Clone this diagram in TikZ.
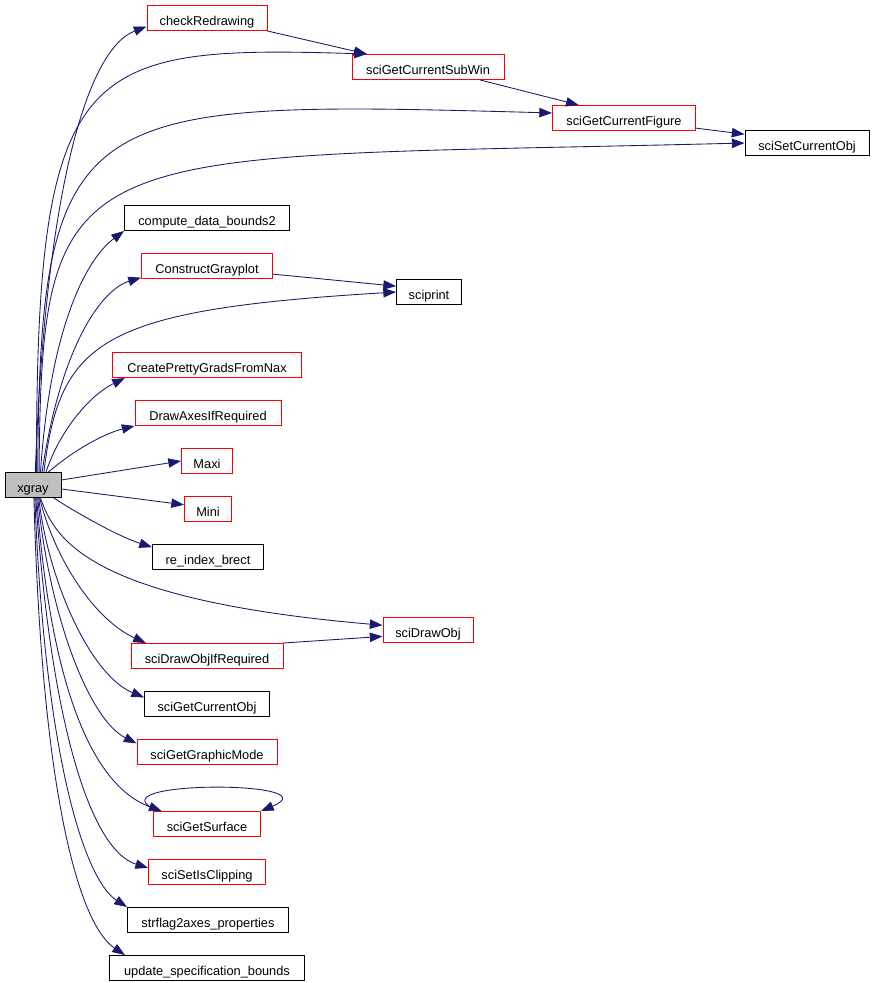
\documentclass[tikz,border=0pt]{standalone}
\usepackage{fontspec}
\setmainfont{Liberation Sans}
\usetikzlibrary{arrows.meta}
\definecolor{edgeblue}{RGB}{25,25,112}
\definecolor{rootgray}{RGB}{191,191,191}

\begin{document}
\begin{tikzpicture}[x=0.75pt,y=-0.75pt,->,>={Triangle[length=9.5pt,width=7pt]},
  call/.style={draw=edgeblue,line width=0.65pt},
  fn node/.style={rectangle,draw=black,line width=0.75pt,fill=white,
  minimum height=18.75pt,inner sep=0pt,text height=10.5pt,text depth=0pt,
  text=black,font=\fontsize{9.6}{11}\selectfont},
  red node/.style={fn node,draw=red},
  root node/.style={fn node,fill=rootgray}]
\useasboundingbox (0,0) rectangle (874,983);
\node[root node,minimum width=42pt](xg) at (33,485){xgray};
\node[red node,minimum width=90pt] (chk) at (207,18) {checkRedrawing};
\node[red node,minimum width=114pt] (sub) at (428,67) {sciGetCurrentSubWin};
\node[red node,minimum width=107.25pt] (fig) at (624,118) {sciGetCurrentFigure};
\node[fn node,minimum width=93pt] (setobj) at (807,143) {sciSetCurrentObj};
\node[fn node,minimum width=123.75pt] (cdb) at (207,218) {compute\_data\_bounds2};
\node[red node,minimum width=98.25pt] (cgp) at (207,266) {ConstructGrayplot};
\node[fn node,minimum width=48.75pt] (prt) at (429,292) {sciprint};
\node[red node,minimum width=141.75pt] (cpg) at (207,365) {CreatePrettyGradsFromNax};
\node[red node,minimum width=109.5pt] (dax) at (208,413) {DrawAxesIfRequired};
\node[red node,minimum width=38.25pt] (maxi) at (207,461) {Maxi};
\node[red node,minimum width=35.25pt] (mini) at (208,509) {Mini};
\node[fn node,minimum width=83.25pt] (rib) at (208,557) {re\_index\_brect};
\node[red node,minimum width=67.5pt] (dobj) at (428,630) {sciDrawObj};
\node[red node,minimum width=114pt] (dreq) at (207,656) {sciDrawObjIfRequired};
\node[fn node,minimum width=93.75pt] (gobj) at (207,704) {sciGetCurrentObj};
\node[red node,minimum width=105pt] (gmode) at (207,752) {sciGetGraphicMode};
\node[red node,minimum width=80.25pt] (surf) at (207,824) {sciGetSurface};
\node[red node,minimum width=87.75pt] (clip) at (207,872) {sciSetIsClipping};
\node[fn node,minimum width=120.75pt] (sfl) at (208,920) {strflag2axes\_properties};
\node[fn node,minimum width=146.25pt] (usb) at (207,968) {update\_specification\_bounds};

% calls going up
\draw[call] (xg.80) .. controls (45,200) and (85,50) .. (chk.188);
\draw[call] (xg.75) .. controls (36,60) and (80,45) .. (sub.168);
\draw[call] (xg.70) .. controls (40,100) and (80,100) .. (fig.176);
\draw[call] (xg.65) .. controls (42,130) and (70,160) .. (setobj.west);
\draw[call] (xg.60) .. controls (50,330) and (85,260) .. (cdb.south west);
\draw[call] (xg.55) .. controls (60,350) and (100,290) .. (cgp.190);
\draw[call] (xg.50) .. controls (60,340) and (100,310) .. (prt.west);
\draw[call] (xg.45) .. controls (60,430) and (90,395) .. (cpg.189);
\draw[call] (xg.40) .. controls (80,445) and (110,432) .. (dax.190);
\draw[call] (xg.10) -- (maxi.west);
\draw[call] (xg.352) -- (mini.170);
% calls going down
\draw[call] (xg.328) .. controls (80,515) and (120,537) .. (rib.170);
\draw[call] (xg.300) .. controls (55,540) and (90,600) .. (dobj.174);
\draw[call] (xg.297) .. controls (55,560) and (95,620) .. (dreq.168);
\draw[call] (xg.294) .. controls (48,580) and (90,675) .. (gobj.174);
\draw[call] (xg.290) .. controls (50,620) and (90,720) .. (gmode.173);
\draw[call] (xg.286) .. controls (50,680) and (90,785) .. (surf.164);
\draw[call] (xg.282) .. controls (50,720) and (90,850) .. (clip.176);
\draw[call] (xg.278) .. controls (45,760) and (85,880) .. (sfl.north west);
\draw[call] (xg.274) .. controls (42,800) and (80,925) .. (usb.171);
% calls between callees
\draw[call] (chk.south east) -- (sub.168);
\draw[call] (sub.346) -- (fig.164);
\draw[call] (fig.352) -- (setobj.172);
\draw[call] (cgp.353) -- (prt.170);
\draw[call] (dreq.north east) -- (dobj.188);
\draw[call] (surf.165) .. controls (85,780) and (335,780) .. (surf.north east);

\end{tikzpicture}
\end{document}
